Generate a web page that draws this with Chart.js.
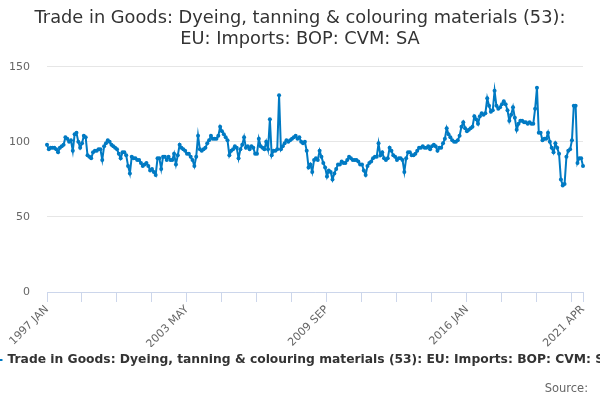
<!DOCTYPE html>
<html>
<head>
<meta charset="utf-8">
<script src="https://cdn.jsdelivr.net/npm/chart.js@4.4.1/dist/chart.umd.min.js"></script>
<style>
  html, body { margin: 0; padding: 0; background: #fff; }
  #wrap { width: 600px; height: 400px; }
</style>
</head>
<body>
<div id="wrap"><canvas id="tradeChart"></canvas></div>
<script>
const monthNames = ["JAN", "FEB", "MAR", "APR", "MAY", "JUN", "JUL", "AUG", "SEP", "OCT", "NOV", "DEC"];
const firstYear = 1997;

// monthly values, one array per year (2021 only to APR)
const v1997 = [98, 95, 96, 96, 96, 95, 93, 96, 97, 98, 103, 102];
const v1998 = [100, 101, 94, 105, 106, 100, 96, 99, 104, 103, 91, 90];
const v1999 = [89, 93, 94, 94, 95, 95, 88, 97, 99, 101, 100, 98];
const v2000 = [97, 96, 95, 92, 89, 93, 93, 91, 84, 79, 90, 89];
const v2001 = [89, 88, 88, 86, 84, 85, 86, 84, 81, 82, 80, 78];
const v2002 = [89, 89, 82, 90, 90, 88, 90, 88, 88, 92, 85, 91];
const v2003 = [98, 96, 95, 94, 92, 92, 90, 88, 84, 90, 104, 95];
const v2004 = [94, 95, 96, 99, 101, 104, 102, 102, 102, 104, 110, 107];
const v2005 = [105, 103, 101, 91, 94, 95, 97, 96, 89, 95, 98, 103];
const v2006 = [96, 97, 95, 97, 96, 92, 92, 102, 97, 96, 95, 100];
const v2007 = [95, 115, 91, 94, 94, 95, 131, 95, 97, 99, 101, 100];
const v2008 = [101, 102, 103, 104, 102, 103, 100, 99, 100, 94, 83, 85];
const v2009 = [80, 88, 89, 88, 94, 90, 86, 83, 77, 81, 80, 75];
const v2010 = [79, 82, 85, 85, 87, 86, 86, 88, 90, 89, 88, 88];
const v2011 = [88, 87, 85, 85, 81, 78, 84, 86, 87, 89, 90, 90];
const v2012 = [99, 91, 93, 89, 88, 89, 96, 94, 91, 90, 88, 89];
const v2013 = [89, 88, 80, 89, 93, 93, 91, 91, 92, 94, 96, 96];
const v2014 = [97, 96, 96, 97, 95, 97, 98, 97, 94, 96, 96, 99];
const v2015 = [102, 109, 105, 103, 101, 100, 100, 101, 104, 110, 113, 109];
const v2016 = [107, 108, 109, 110, 117, 115, 112, 117, 119, 118, 119, 129];
const v2017 = [124, 120, 121, 134, 124, 122, 123, 125, 127, 125, 121, 114];
const v2018 = [118, 123, 116, 108, 112, 114, 114, 113, 113, 112, 113, 112];
const v2019 = [112, 122, 136, 106, 106, 101, 102, 102, 106, 100, 96, 93];
const v2020 = [99, 96, 92, 75, 71, 72, 90, 94, 95, 101, 124, 124];
const v2021 = [86, 89, 89, 84];

const yTicks = [0, 50, 100, 150];

const values = [].concat(v1997, v1998, v1999, v2000, v2001, v2002, v2003, v2004,
    v2005, v2006, v2007, v2008, v2009, v2010, v2011, v2012, v2013, v2014, v2015,
    v2016, v2017, v2018, v2019, v2020, v2021);

const labels = values.map((v, i) => (firstYear + Math.floor(i / 12)) + " " + monthNames[i % 12]);
const lastIdx = labels.length - 1;

const seriesName = "Trade in Goods: Dyeing, tanning & colouring materials (53): EU: Imports: BOP: CVM: SA";
const sourceText = "Source:";
const blue = "#007ac3";
const fontFamily = "'DejaVu Sans', sans-serif";

// legend and source line drawn under the axis, Highcharts style
const footerPlugin = {
    id: "footer",
    afterDraw(chart) {
        const c = chart.ctx;
        const w = chart.width;
        const h = chart.height;
        c.save();
        c.font = "bold 12.3px " + fontFamily;
        const textW = c.measureText(seriesName).width;
        const symW = 16, gap = 5;
        const startX = (w - (symW + gap + textW)) / 2;
        const ly = h - 40;
        c.strokeStyle = blue;
        c.lineWidth = 2;
        c.beginPath();
        c.moveTo(startX, ly);
        c.lineTo(startX + symW, ly);
        c.stroke();
        c.fillStyle = blue;
        c.beginPath();
        c.arc(startX + symW / 2, ly, 3, 0, Math.PI * 2);
        c.fill();
        c.fillStyle = "#333333";
        c.textBaseline = "middle";
        c.textAlign = "left";
        c.fillText(seriesName, startX + symW + gap, ly);

        c.font = "11.5px " + fontFamily;
        c.fillStyle = "#666666";
        c.textAlign = "right";
        c.fillText(sourceText, w - 12, h - 11);
        c.restore();
    }
};

const ctx = document.getElementById("tradeChart");

const tradeChart = new Chart(ctx, {
    type: "line",
    data: {
        labels: labels,
        datasets: [{
            label: seriesName,
            data: values,
            borderColor: blue,
            backgroundColor: blue,
            borderWidth: 2,
            pointRadius: 2,
            pointBorderWidth: 0,
            pointBackgroundColor: blue,
            tension: 0,
        }]
    },
    options: {
        responsive: true,
        maintainAspectRatio: false,
        animation: false,
        layout: {
            padding: { left: 0, right: 0, top: 0, bottom: 53 }
        },
        plugins: {
            title: {
                display: true,
                text: ["Trade in Goods: Dyeing, tanning & colouring materials (53):", "EU: Imports: BOP: CVM: SA"],
                color: "#333333",
                font: { family: fontFamily, size: 17.8, weight: "normal", lineHeight: 1.23 },
                padding: { top: 7, bottom: 16 }
            },
            legend: { display: false },
            tooltip: { enabled: false }
        },
        scales: {
            x: {
                type: "category",
                offset: false,
                border: { display: true, color: "#ccd6eb", width: 1 },
                grid: {
                    drawOnChartArea: false,
                    drawTicks: true,
                    tickLength: 10,
                    color: "#ccd6eb"
                },
                afterBuildTicks: (axis) => {
                    axis.ticks = axis.ticks.filter(t => t.value % 19 === 0 || t.value === lastIdx);
                },
                afterFit: (axis) => {
                    axis.height = 55;
                    axis.paddingLeft = 0;
                    axis.paddingRight = 17;
                },
                ticks: {
                    autoSkip: false,
                    minRotation: 45,
                    maxRotation: 45,
                    color: "#666666",
                    font: { family: fontFamily, size: 11 },
                    padding: 1,
                    callback: function (value) {
                        if (value % 76 === 0 || value === lastIdx) return labels[value];
                        return "";
                    }
                }
            },
            y: {
                min: 0,
                max: 150,
                border: { display: false },
                grid: { color: "#e6e6e6", drawTicks: false },
                afterBuildTicks: (axis) => {
                    axis.ticks = yTicks.map(v => ({ value: v }));
                },
                afterFit: (axis) => { axis.width = 47; },
                ticks: {
                    color: "#666666",
                    font: { family: fontFamily, size: 11 },
                    padding: 17
                }
            }
        }
    },
    plugins: [footerPlugin]
});
</script>
</body>
</html>
